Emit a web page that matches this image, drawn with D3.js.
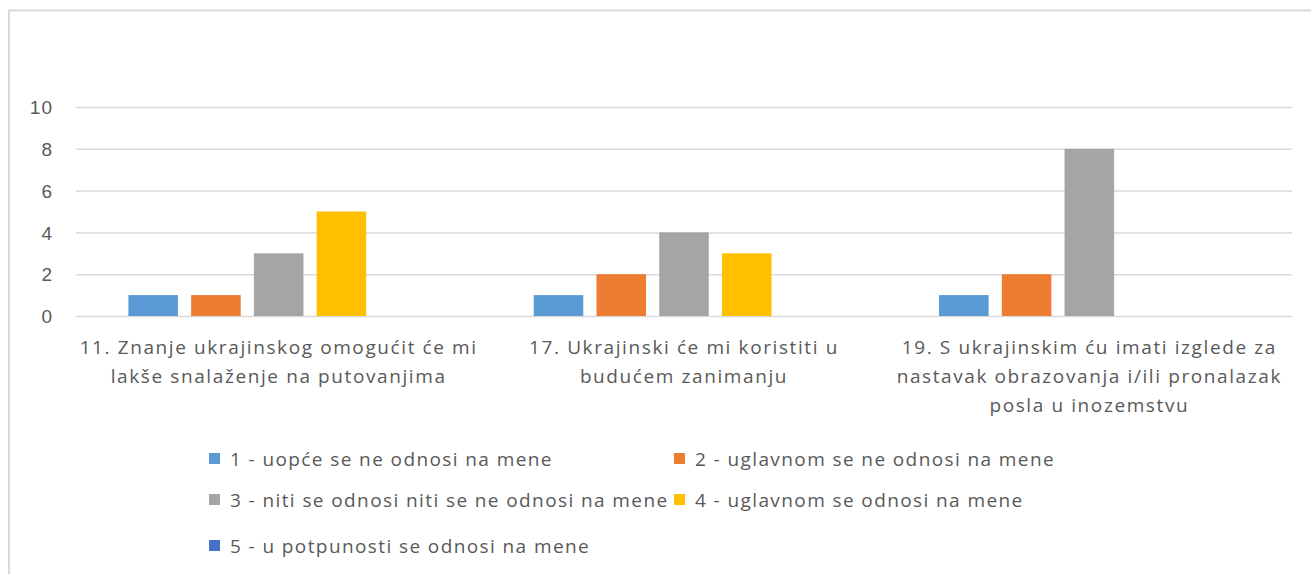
<!DOCTYPE html>
<html>
<head>
<meta charset="utf-8">
<script src="https://d3js.org/d3.v7.min.js"></script>
<style>
  body { margin: 0; background: #fff; }
  svg { display: block; font-family: "Open Sans", sans-serif; }
  .grid line { stroke: #d9d9d9; stroke-width: 1.5px; }
  .grid .domain { display: none; }
  .y-axis .domain, .y-axis line { display: none; }
  .y-axis text { fill: #595959; font-size: 19px; letter-spacing: 1px; }
  .cat text { fill: #595959; font-size: 19px; letter-spacing: 1.6px; }
  .legend text { fill: #595959; font-size: 19px; letter-spacing: 1.4px; }
</style>
</head>
<body>
<script>
// data
var categories = [
  "11. Znanje ukrajinskog omogućit će mi\nlakše snalaženje na putovanjima",
  "17. Ukrajinski će mi koristiti u\nbudućem zanimanju",
  "19. S ukrajinskim ću imati izglede za\nnastavak obrazovanja i/ili pronalazak\nposla u inozemstvu"
];
var seriesNames = [
  "1 - uopće se ne odnosi na mene",
  "2 - uglavnom se ne odnosi na mene",
  "3 - niti se odnosi niti se ne odnosi na mene",
  "4 - uglavnom se odnosi na mene",
  "5 - u potpunosti se odnosi na mene"
];
var s1 = [1, 1, 1];
var s2 = [1, 2, 2];
var s3 = [3, 4, 8];
var s4 = [5, 3, 0];
var s5 = [0, 0, 0];
var yTicks = [0, 2, 4, 6, 8, 10];
var colors = ["#5B9BD5", "#ED7D31", "#A5A5A5", "#FFC000", "#4472C4"];

var allSeries = [s1, s2, s3, s4, s5];

var W = 1311, H = 574;
var plot = {left: 76, right: 1292, top: 107, bottom: 316};

var svg = d3.select("body").append("svg")
  .attr("width", W)
  .attr("height", H);

// chart border (only top and left fall inside the frame)
svg.append("rect")
  .attr("x", 9).attr("y", 10.5)
  .attr("width", W + 20).attr("height", H + 20)
  .attr("fill", "none")
  .attr("stroke", "#d9d9d9")
  .attr("stroke-width", 2);

var x0 = d3.scaleBand()
  .domain(d3.range(categories.length))
  .range([plot.left, plot.right])

var x1 = d3.scaleBand()
  .domain(d3.range(seriesNames.length))
  .range([0, x0.bandwidth()])
  .paddingInner(0.21)
  .paddingOuter(0.835)

var y = d3.scaleLinear()
  .domain([0, 10])
  .range([plot.bottom, plot.top])

// gridlines
svg.append("g")
  .attr("class", "grid")
  .attr("transform", `translate(${plot.left},0)`)
  .call(d3.axisLeft(y).tickValues(yTicks).tickSize(-(plot.right - plot.left)).tickFormat(""))

svg.append("g")
  .attr("class", "y-axis")
  .attr("transform", `translate(${plot.left},0)`)
  .call(d3.axisLeft(y).tickValues(yTicks).tickSize(0).tickPadding(23))
  .selectAll("text")
  .attr("dy", "0.35em")

// bars
var groups = svg.append("g").selectAll("g")
  .data(categories)
  .join("g")
  .attr("transform", (d, i) => `translate(${x0(i)},0)`)

groups.selectAll("rect")
  .data((d, i) => allSeries.map((s, k) => ({k: k, v: s[i]})))
  .join("rect")
  .attr("x", d => x1(d.k))
  .attr("width", x1.bandwidth())
  .attr("y", d => y(d.v))
  .attr("height", d => y(0) - y(d.v))
  .attr("fill", d => colors[d.k])

// category labels
var cat = svg.append("g").attr("class", "cat")
categories.forEach((c, i) => {
  var t = cat.append("text")
    .attr("text-anchor", "middle")
    .attr("x", x0(i) + x0.bandwidth() / 2)
    .attr("y", 354)
  c.split("\n").forEach((line, j) => {
    t.append("tspan")
      .attr("x", x0(i) + x0.bandwidth() / 2)
      .attr("dy", j === 0 ? 0 : 29)
      .text(line)
  })
})

// legend
var legendRows = [[0, 1], [2, 3], [4]];
var rowY = [459, 500, 546];
var legend = svg.append("g").attr("class", "legend")
legendRows.forEach((row, r) => {
  var xPos = 209;
  row.forEach((k, j) => {
    if (j === 1) xPos = Math.max(xPos, 674);
    var item = legend.append("g").attr("transform", `translate(${xPos},${rowY[r]})`)
    item.append("rect")
      .attr("x", 0).attr("y", -6)
      .attr("width", 11).attr("height", 11)
      .attr("fill", colors[k])
    var tx = item.append("text")
      .attr("x", 21)
      .attr("dy", "0.35em")
      .text(seriesNames[k])
    xPos += 21 + tx.node().getComputedTextLength() + 4;
  })
})
</script>
</body>
</html>
